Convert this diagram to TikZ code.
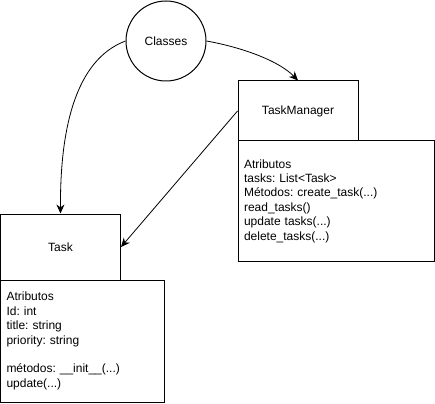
\documentclass[tikz,border=0pt]{standalone}
\usepackage{fontspec}
\setmainfont{Liberation Sans}
\usetikzlibrary{arrows.meta}
\begin{document}
\frenchspacing
\begin{tikzpicture}[x=1pt,y=-1pt,
  every node/.style={font=\fontsize{12}{14.4}\selectfont},
  box/.style={draw,line width=1pt,rectangle,inner sep=0pt},
  attrbox/.style={draw,line width=1pt,rectangle,inner xsep=6pt,inner ysep=0pt,align=left},
  conn/.style={line width=0.8pt,-{Stealth[length=9pt,width=8pt]}}]
\useasboundingbox (0,0) rectangle (435,403);
\node[draw,circle,line width=1pt,minimum size=80pt,inner sep=0pt] (classes) at (166,41) {Classes};
\node[box,minimum width=120pt,minimum height=60pt] (tm) at (298,111) {TaskManager};
\node[attrbox,minimum width=196pt,minimum height=120pt,text width=184pt] (tmattr) at (336,201)
  {Atributos\\tasks: List<Task>\\Métodos: create\_task(...)\\read\_tasks()\\update tasks(...)\\delete\_tasks(...)};
\node[box,minimum width=120pt,minimum height=66pt] (task) at (60.5,247) {Task};
\node[attrbox,minimum width=164pt,minimum height=122pt,text width=152pt] (taskattr) at (82.5,341)
  {Atributos\\Id: int\\title: string\\priority: string\\[14.4pt]métodos: \_\_init\_\_(...)\\update(...)};
\draw[conn] (classes.west) .. controls (75,60) and (60,130) .. (task.north);
\draw[conn] (classes.east) .. controls (240,47) and (278,60) .. (tm.north);
\draw[conn] (tm.west) -- (task.east);
\end{tikzpicture}
\end{document}
